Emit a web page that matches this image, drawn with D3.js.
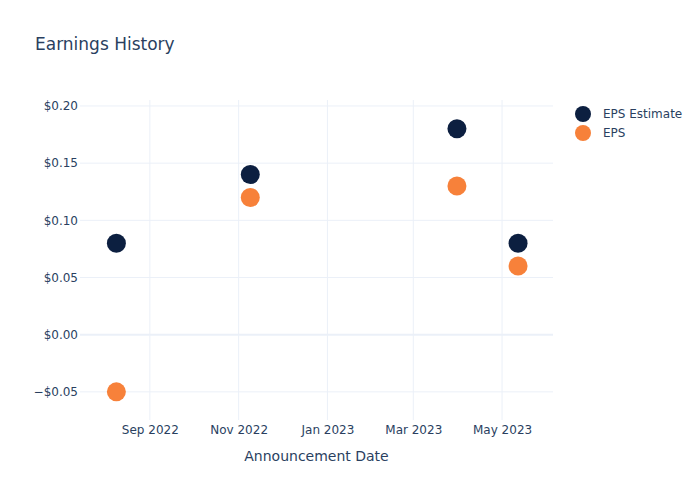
<!DOCTYPE html>
<html><head><meta charset="utf-8">
<script src="https://cdn.jsdelivr.net/npm/d3@7"></script>
<style>body{margin:0;background:#fff}svg{display:block}text{font-family:"DejaVu Sans",sans-serif;fill:#2a3f5f}</style>
</head><body><div id="chart"></div>
<script>
const dates = ["2022-08-09","2022-11-09","2023-03-31","2023-05-12"];
const epsEstimate = [0.08,0.14,0.18,0.08];
const eps = [-0.05,0.12,0.13,0.06];
const seriesNames = ["EPS Estimate","EPS"];
const yTicks = [-0.05,0,0.05,0.10,0.15,0.20];
const xTicks = ["2022-09-01","2022-11-01","2023-01-01","2023-03-01","2023-05-01"];

const W=700,H=500,m={l:80,r:147,t:100,b:80};
const parse=d3.timeParse("%Y-%m-%d");
const svg=d3.select("#chart").append("svg").attr("width",W).attr("height",H);
const x=d3.scaleTime().domain([parse("2022-07-15"),parse("2023-06-05")]).range([m.l,W-m.r]);
const y=d3.scaleLinear().domain([-0.0746,0.2052]).range([H-m.b,m.t]);

// grid
svg.append("g").selectAll("line").data(xTicks).join("line")
  .attr("x1",d=>x(parse(d))).attr("x2",d=>x(parse(d))).attr("y1",m.t).attr("y2",H-m.b)
  .attr("stroke","#ebf0f8").attr("stroke-width",1);
svg.append("g").selectAll("line").data(yTicks).join("line")
  .attr("x1",m.l).attr("x2",W-m.r).attr("y1",d=>y(d)).attr("y2",d=>y(d))
  .attr("stroke","#ebf0f8").attr("stroke-width",d=>d===0?2:1);

// axes using d3 axes
const yAx=svg.append("g").attr("transform",`translate(${m.l},0)`)
  .call(d3.axisLeft(y).tickValues(yTicks).tickSize(0).tickPadding(2)
  .tickFormat(d=>(d<0?"\u2212$":"$")+Math.abs(d).toFixed(2)));
yAx.select(".domain").remove();
yAx.selectAll("text").attr("font-size",12).style("font-family","DejaVu Sans").attr("fill","#2a3f5f");
const xAx=svg.append("g").attr("transform",`translate(0,${H-m.b})`)
  .call(d3.axisBottom(x).tickValues(xTicks.map(parse)).tickSize(0).tickPadding(5)
  .tickFormat(d3.timeFormat("%b %Y")));
xAx.select(".domain").remove();
xAx.selectAll("text").attr("font-size",12).style("font-family","DejaVu Sans").attr("fill","#2a3f5f");

svg.append("text").attr("x",(m.l+W-m.r)/2).attr("y",461).attr("text-anchor","middle")
  .attr("font-size",14).text("Announcement Date");
svg.append("text").attr("x",35).attr("y",50).attr("font-size",17).text("Earnings History");

const colors=["#0c1f40","#f7813a"];
const series=[epsEstimate,eps];
series.forEach((vals,i)=>{
  svg.append("g").selectAll("circle").data(vals).join("circle")
    .attr("cx",(d,j)=>x(parse(dates[j]))).attr("cy",d=>y(d)).attr("r",9.5)
    .attr("fill",colors[i]);
});
// legend
const lg=svg.append("g");
seriesNames.forEach((n,i)=>{
  lg.append("circle").attr("cx",583).attr("cy",114+i*19).attr("r",8).attr("fill",colors[i]);
  lg.append("text").attr("x",603).attr("y",118+i*19).attr("font-size",12).text(n);
});
</script></body></html>
